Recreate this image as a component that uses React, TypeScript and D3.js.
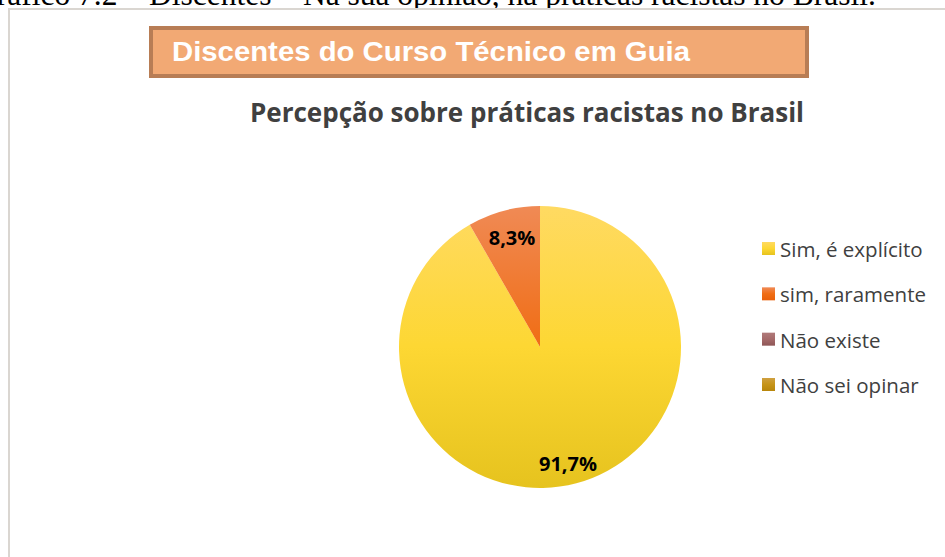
import React from "react";
import * as d3 from "d3";

const categories = ["Sim, é explícito", "sim, raramente", "Não existe", "Não sei opinar"];
const values = [91.7, 8.3, 0, 0];
const labels = ["91,7%", "8,3%", "", ""];
const gradients = [
  ["#ffda62", "#fdd733", "#e6c31e"],
  ["#f08a55", "#f06d14", "#e9600a"],
  ["#b07a7a", "#a56a6a", "#8e5656"],
  ["#cfa040", "#c69418", "#b8860b"],
];

const W = 945;
const H = 557;
const cx = 540;
const cy = 347;
const radius = 141;

const App = () => {
  const pie = d3
    .pie<number>()
    .value(d => d)
    .sort(null);
  const arc = d3.arc<d3.PieArcDatum<number>>().innerRadius(0).outerRadius(radius);
  const arcs = pie(values);
  const legendY = d3.scalePoint<string>().domain(categories).range([248, 384]);

  return (
    <svg
      width={W}
      height={H}
      style={{ position: "absolute", left: 0, top: 0 }}
      fontFamily="'Open Sans', sans-serif"
    >
      <defs>
        {gradients.map((g, i) => (
          <linearGradient key={i} id={`grad${i}`} x1="0" y1="0" x2="0" y2="1">
            <stop offset="0%" stopColor={g[0]} />
            <stop offset="50%" stopColor={g[1]} />
            <stop offset="100%" stopColor={g[2]} />
          </linearGradient>
        ))}
        {gradients.map((g, i) => (
          <linearGradient
            key={i}
            id={`pgrad${i}`}
            gradientUnits="userSpaceOnUse"
            x1="0"
            y1={-radius}
            x2="0"
            y2={radius}
          >
            <stop offset="0%" stopColor={g[0]} />
            <stop offset="50%" stopColor={g[1]} />
            <stop offset="100%" stopColor={g[2]} />
          </linearGradient>
        ))}
      </defs>
      <rect width={W} height={H} fill="#fff" />
      {/* caption, cut off at the top like the page scan */}
      <text
        x={-26}
        y={5}
        fontFamily="'Liberation Serif', serif"
        fontSize={31.5}
        fill="#000"
      >
        Gráfico 7.2 – Discentes – Na sua opinião, há práticas racistas no Brasil.
      </text>
      {/* chart frame */}
      <rect x={9} y={9} width={W} height={H} fill="#fff" stroke="#dad6d1" strokeWidth={2} />

      {/* orange header box */}
      <rect x={151} y={28} width={656} height={48} fill="#f2a974" stroke="#b87d55" strokeWidth={4} />
      <text
        x={172}
        y={61}
        fontFamily="'Liberation Sans', Arial, sans-serif"
        fontWeight="bold"
        fontSize={27}
        textLength={518}
        lengthAdjust="spacingAndGlyphs"
        fill="#fff"
      >
        Discentes do Curso Técnico em Guia
      </text>

      <text
        x={527}
        y={122}
        textAnchor="middle"
        fontWeight="bold"
        fontSize={26}
        fill="#404040"
      >
        Percepção sobre práticas racistas no Brasil
      </text>

      <g transform={`translate(${cx},${cy})`}>
        {arcs.map((d, i) =>
          d.value > 0 ? <path key={i} d={arc(d) || ""} fill={`url(#pgrad${i})`} /> : null
        )}
        {arcs.map((d, i) => {
          if (!labels[i]) return null;
          const r = i === 0 ? radius * 0.85 : radius * 0.8;
          const a = i === 0 ? Math.PI * 0.925 : (d.startAngle + d.endAngle) / 2 + 0.01;
          const x = Math.sin(a) * r;
          const y = -Math.cos(a) * r;
          return (
            <text
              key={i}
              x={x}
              y={y}
              textAnchor="middle"
              dominantBaseline="central"
              fontWeight="bold"
              fontSize={20}
              fill="#000"
            >
              {labels[i]}
            </text>
          );
        })}
      </g>

      <g>
        {categories.map((c, i) => (
          <g key={c} transform={`translate(762,${legendY(c)})`}>
            <rect x={0} y={-6} width={13} height={13} fill={`url(#grad${i})`} />
            <text x={18} y={1} dominantBaseline="central" fontSize={20.5} fill="#404040">
              {c}
            </text>
          </g>
        ))}
      </g>
    </svg>
  );
};

export default App;
